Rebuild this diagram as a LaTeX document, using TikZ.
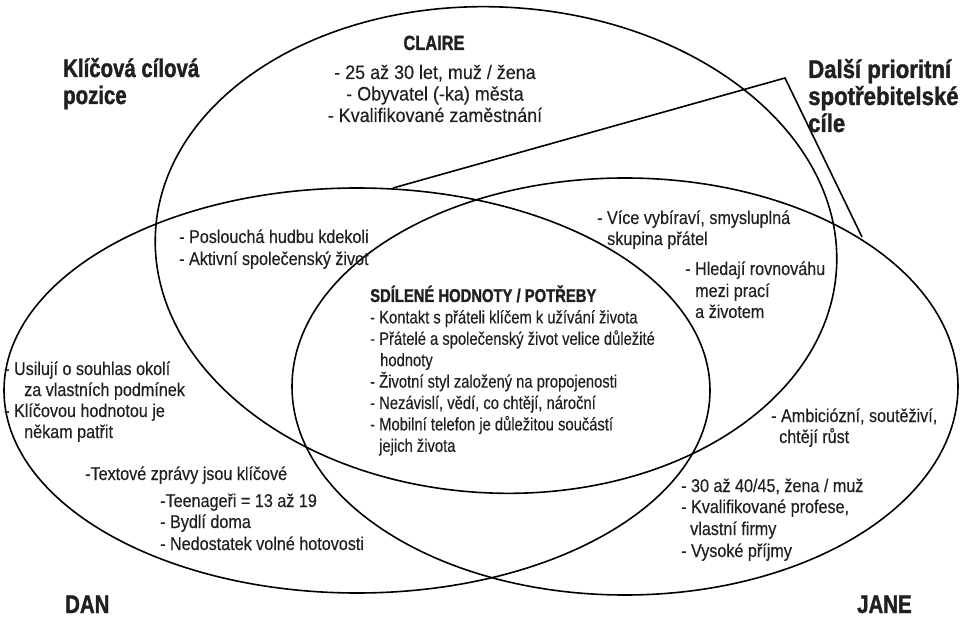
\documentclass[tikz,border=0pt]{standalone}
\usepackage{fontspec}
\setmainfont{Liberation Sans}
% narrowed faces for the labels
\newfontfamily\fontA{Liberation Sans}[FakeStretch=0.873, FakeBold=0.3]
\newfontfamily\fontC{Liberation Sans}[FakeStretch=0.92, FakeBold=0.3]
\newfontfamily\fontS{Liberation Sans}[FakeStretch=0.82, FakeBold=0.3]
\newfontfamily\fontH{Liberation Sans}[FakeStretch=0.80, BoldFeatures={FakeBold=1.4}]
\newfontfamily\fontHw{Liberation Sans}[FakeStretch=0.87, BoldFeatures={FakeBold=1.4}]
\definecolor{ink}{RGB}{35,31,32}
\tikzset{
  ring/.style={draw=black, line width=1.6pt},
  pointer/.style={draw=black, line width=1.6pt, line join=miter},
  ln/.style={anchor=base west, inner sep=0pt, text=ink},
  lnc/.style={anchor=base, inner sep=0pt, text=ink},
  body/.style={font=\fontA\fontsize{18.5}{21}\selectfont},
  claire/.style={font=\fontC\fontsize{19.5}{22}\selectfont},
  shared/.style={font=\fontS\fontsize{18}{21}\selectfont},
  sharedhead/.style={font=\fontH\bfseries\fontsize{18.5}{21}\selectfont},
  clairehead/.style={font=\fontH\bfseries\fontsize{20.5}{22}\selectfont},
  bighead/.style={font=\fontH\bfseries\fontsize{25.5}{28}\selectfont},
  bigheadw/.style={font=\fontHw\bfseries\fontsize{25.5}{28}\selectfont},
}
\begin{document}
\begin{tikzpicture}[x=1pt,y=-1pt]
\useasboundingbox (0,0) rectangle (961,617);

% the three audience ellipses
\draw[ring, rotate around={-3:(496,250)}] (496,250) ellipse [x radius=341pt, y radius=243pt];
\draw[ring] (357,390.5) ellipse [x radius=353pt, y radius=202.5pt];
\draw[ring] (625,386.5) ellipse [x radius=333pt, y radius=208.5pt];

% pointer from the secondary target heading
\coordinate (ptA) at (393,188);
\coordinate (ptB) at (785,78);
\coordinate (ptC) at (862,237);
\draw[pointer] (ptA) -- (ptB) -- (ptC);

% headings
\node[ln, bighead] (hk1) at (63,77) {Klíčová cílová};
\node[ln, bighead] (hk2) at (63,104) {pozice};
\node[ln, bigheadw] (hd1) at (808,78) {Další prioritní};
\node[ln, bigheadw] (hd2) at (808,105) {spotřebitelské};
\node[ln, bigheadw] (hd3) at (808,132) {cíle};
\node[ln, bighead] (dan) at (65,613) {DAN};
\node[ln, bighead] (jane) at (857,613) {JANE};

% Claire
\node[lnc, clairehead] (cl0) at (434,50) {CLAIRE};
\node[lnc, claire] (cl1) at (435,79) {- 25 až 30 let, muž / žena};
\node[lnc, claire] (cl2) at (435,100.5) {- Obyvatel (-ka) města};
\node[lnc, claire] (cl3) at (435,122) {- Kvalifikované zaměstnání};

% Claire and Dan
\node[ln, body] (cd1) at (179,243) {- Poslouchá hudbu kdekoli};
\node[ln, body] (cd2) at (179,265) {- Aktivní společenský život};

% shared values
\node[ln, sharedhead] (sv0) at (370,302) {SDÍLENÉ HODNOTY / POTŘEBY};
\node[ln, shared] (sv1) at (370,323.4) {- Kontakt s přáteli klíčem k užívání života};
\node[ln, shared] (sv2) at (370,344.8) {- Přátelé a společenský život velice důležité};
\node[ln, shared] (sv3) at (380,366.2) {hodnoty};
\node[ln, shared] (sv4) at (370,387.6) {- Životní styl založený na propojenosti};
\node[ln, shared] (sv5) at (370,409) {- Nezávislí, vědí, co chtějí, nároční};
\node[ln, shared] (sv6) at (370,430.4) {- Mobilní telefon je důležitou součástí};
\node[ln, shared] (sv7) at (379,451.8) {jejich života};

% Claire and Jane
\node[ln, body] (cj1) at (597,224) {- Více vybíraví, smysluplná};
\node[ln, body] (cj2) at (607,245) {skupina přátel};
\node[ln, body] (cj3) at (685,275) {- Hledají rovnováhu};
\node[ln, body] (cj4) at (695,297) {mezi prací};
\node[ln, body] (cj5) at (695,318) {a životem};

% Jane
\node[ln, body] (ja1) at (771,422) {- Ambiciózní, soutěživí,};
\node[ln, body] (ja2) at (779,443) {chtějí růst};
\node[ln, body] (ja3) at (681,492) {- 30 až 40/45, žena / muž};
\node[ln, body] (ja4) at (681,513) {- Kvalifikované profese,};
\node[ln, body] (ja5) at (690,535) {vlastní firmy};
\node[ln, body] (ja6) at (681,557) {- Vysoké příjmy};

% Dan
\node[ln, body] (da1) at (4,375) {- Usilují o souhlas okolí};
\node[ln, body] (da2) at (24,396) {za vlastních podmínek};
\node[ln, body] (da3) at (4,417) {- Klíčovou hodnotou je};
\node[ln, body] (da4) at (24,438) {někam patřit};
\node[ln, body] (da5) at (85,480) {-Textové zprávy jsou klíčové};
\node[ln, body] (da6) at (160,507) {-Teenageři = 13 až 19};
\node[ln, body] (da7) at (160,528) {- Bydlí doma};
\node[ln, body] (da8) at (160,550) {- Nedostatek volné hotovosti};
\end{tikzpicture}
\end{document}
